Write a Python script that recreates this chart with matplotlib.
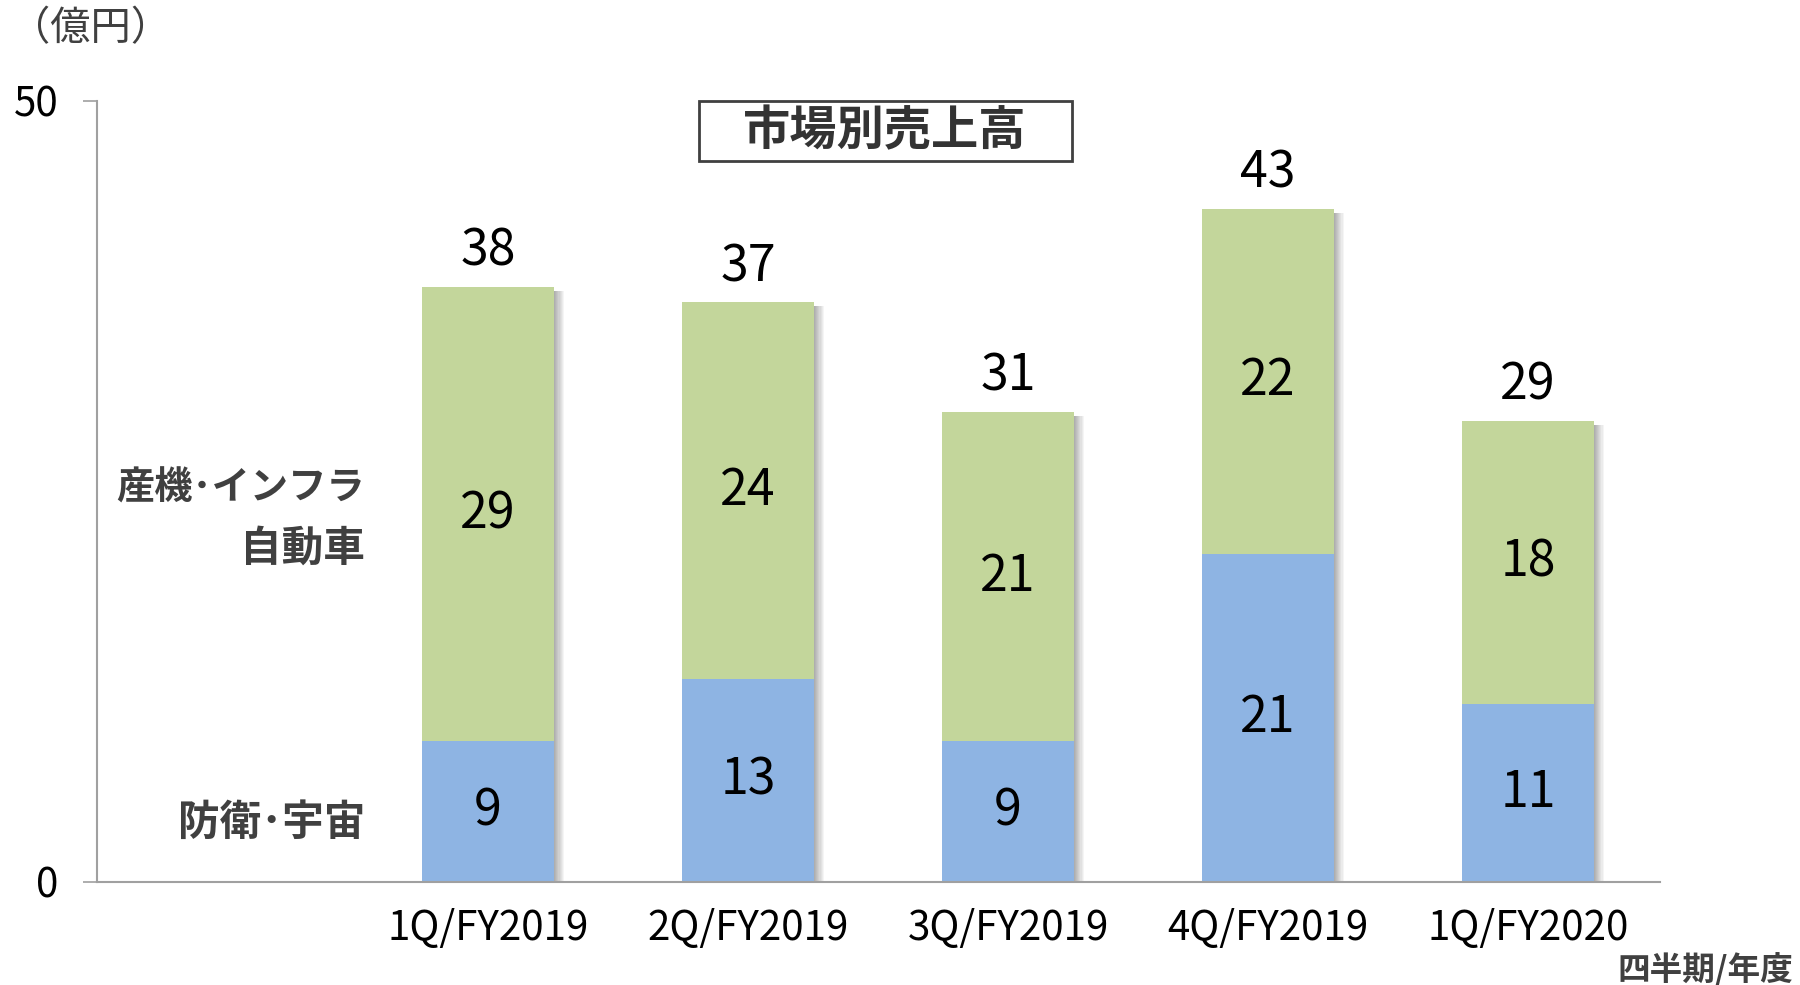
import matplotlib.pyplot as plt
from matplotlib.patches import Rectangle

plt.rcParams['font.family'] = ['Noto Sans CJK JP', 'DejaVu Sans']

quarters = ['1Q/FY2019', '2Q/FY2019', '3Q/FY2019', '4Q/FY2019', '1Q/FY2020']
# bar heights (labels are rounded in the source)
defense = [9.0, 13.0, 9.0, 21.0, 11.4]      # 防衛・宇宙
industry = [29.1, 24.1, 21.1, 22.1, 18.1]   # 産機・インフラ / 自動車
defense_lbl = ['9', '13', '9', '21', '11']
industry_lbl = ['29', '24', '21', '22', '18']
total_lbl = ['38', '37', '31', '43', '29']

blue = '#8EB4E3'
green = '#C3D69B'
txt_gray = '#404040'

fig = plt.figure(figsize=(18, 9.85), dpi=100)
ax = fig.add_axes([0.0539, 0.1046, 0.8683, 0.7929])

x = list(range(len(quarters)))
w = 0.51
tops = [d + g for d, g in zip(defense, industry)]

# soft shadow on the right side of each bar
for k in range(9):
    off = 0.004 * (k + 1)
    ax.bar([i + off for i in x], [t - 0.25 for t in tops], w, color='#000000',
           alpha=0.04, linewidth=0, zorder=1)

ax.bar(x, defense, w, color=blue, linewidth=0, zorder=2)
ax.bar(x, industry, w, bottom=defense, color=green, linewidth=0, zorder=2)

for i in x:
    ax.text(i, defense[i] / 2, defense_lbl[i], ha='center', va='center',
            fontsize=36, color='black', zorder=3)
    ax.text(i, defense[i] + industry[i] / 2, industry_lbl[i], ha='center',
            va='center', fontsize=36, color='black', zorder=3)
    ax.text(i, tops[i] + 0.6, total_lbl[i], ha='center', va='bottom',
            fontsize=36, color='black', zorder=3)

ax.set_xlim(-1.504, 4.508)
ax.set_ylim(0, 50)
ax.set_yticks([0, 50])
ax.set_yticklabels(['0', '50'], fontsize=29)
ax.set_xticks(x)
ax.set_xticklabels(quarters, fontsize=29)
ax.tick_params(axis='x', length=0, pad=19)
ax.tick_params(axis='y', length=10, width=1.2, color='#A0A0A0', pad=18)

for s in ['top', 'right']:
    ax.spines[s].set_visible(False)
for s in ['left', 'bottom']:
    ax.spines[s].set_color('#A0A0A0')
    ax.spines[s].set_linewidth(1.5)

# title box
fig.patches.append(Rectangle((699 / 1800, 1 - 161 / 985), 373 / 1800, 60 / 985,
                             transform=fig.transFigure, facecolor='white',
                             edgecolor='#404040', linewidth=2))
fig.text(0.4917, 0.867, '市場別売上高', ha='center', va='center', fontsize=34,
         fontweight='bold', color='#333333')

fig.text(0.2028, 0.5046, '産機･インフラ', ha='right', va='center', fontsize=27.5,
         fontweight='bold', color=txt_gray)
fig.text(0.2028, 0.4426, '自動車', ha='right', va='center', fontsize=30,
         fontweight='bold', color=txt_gray)
fig.text(0.2028, 0.1645, '防衛･宇宙', ha='right', va='center', fontsize=30,
         fontweight='bold', color=txt_gray)

fig.text(0.050, 0.9706, '（億円）', ha='center', va='center', fontsize=29,
         color=txt_gray)
fig.text(0.996, 0.0152, '四半期/年度', ha='right', va='center', fontsize=23.5,
         fontweight='bold', color=txt_gray)

fig.savefig('out.png', dpi=100)
